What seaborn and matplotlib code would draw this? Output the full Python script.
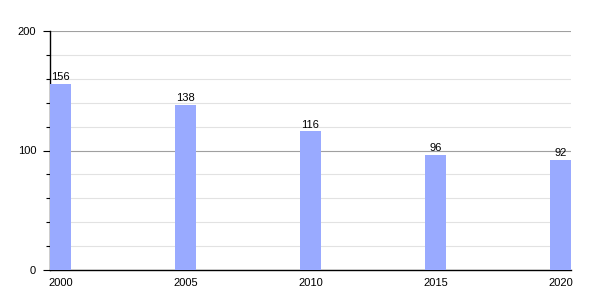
import matplotlib
matplotlib.use("Agg")
import matplotlib.pyplot as plt
import seaborn as sns
import pandas as pd
from matplotlib.ticker import MultipleLocator

years = ["2000", "2005", "2010", "2015", "2020"]
values = [156, 138, 116, 96, 92]

sns.set_style("white")
plt.rcParams['font.family'] = ['Liberation Sans', 'DejaVu Sans']
plt.rcParams['text.color'] = 'black'
plt.rcParams['xtick.color'] = 'black'
plt.rcParams['ytick.color'] = 'black'
plt.rcParams['xtick.labelcolor'] = 'black'
plt.rcParams['ytick.labelcolor'] = 'black'

df = pd.DataFrame({"year": years, "value": values})

fig = plt.figure(figsize=(6, 3), dpi=100)
ax = fig.add_axes([50/600, 30/300, 521/600, 239/300])

sns.barplot(data=df, x="year", y="value", color="#99aaff", saturation=1,
            width=0.165, ax=ax, zorder=3, linewidth=0, edgecolor="none")

ax.set_xlim(-0.0825, 4.0825)
ax.set_ylim(0, 200)
ax.yaxis.set_major_locator(MultipleLocator(100))
ax.yaxis.set_minor_locator(MultipleLocator(20))
ax.grid(which="major", axis="y", color="#a0a0a0", linewidth=0.8, zorder=0)
ax.grid(which="minor", axis="y", color="#e2e2e2", linewidth=0.8, zorder=0)
ax.set_axisbelow(True)

for s in ["top", "right"]:
    ax.spines[s].set_visible(False)
ax.spines["left"].set_color("black")
ax.spines["bottom"].set_color("black")
ax.spines["left"].set_linewidth(1)
ax.spines["bottom"].set_linewidth(1)

ax.tick_params(axis="y", which="major", left=True, length=5, width=0.8, labelsize=8, pad=5, colors="black")
ax.tick_params(axis="y", which="minor", left=True, length=3, width=0.8, colors="black")
ax.tick_params(axis="x", bottom=False, labelsize=8, pad=2, colors="black")
ax.set_xlabel("")
ax.set_ylabel("")

for i, v in enumerate(values):
    ax.text(i, v + 1.5, str(v), ha="center", va="bottom", fontsize=8, color="black")

fig.savefig("out.png", dpi=100)
